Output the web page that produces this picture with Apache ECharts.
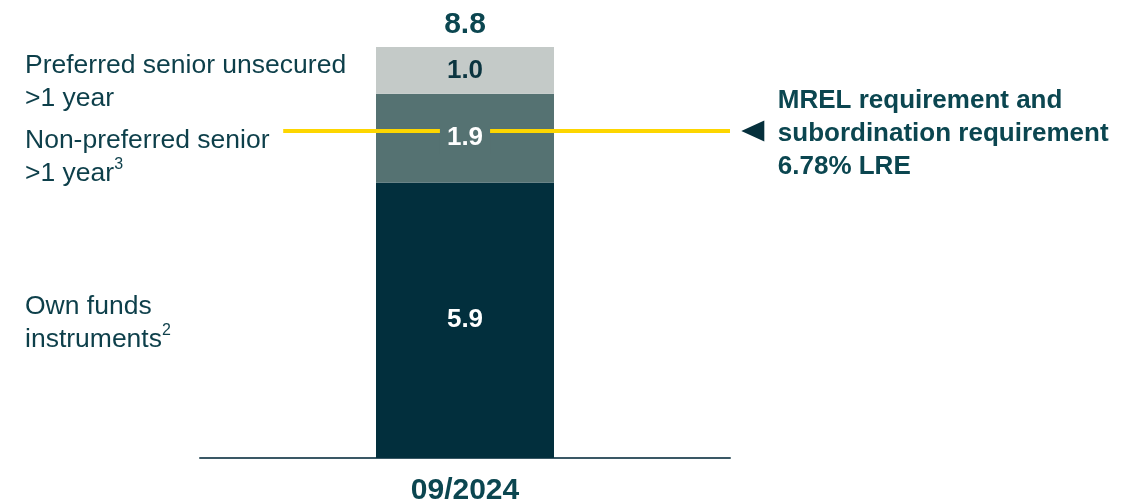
<!DOCTYPE html>
<html>
<head>
<meta charset="utf-8">
<script src="https://cdn.jsdelivr.net/npm/echarts@6/dist/echarts.min.js"></script>
<style>
  html, body { margin: 0; padding: 0; background: #ffffff; }
  #chart { width: 1146px; height: 502px; }
</style>
</head>
<body>
<div id="chart"></div>
<script>
// Stacked funding structure at one reporting date (EUR bn)
const categories = ['09/2024'];
const ownFunds = [5.9];          // Own funds instruments
const nonPreferred = [1.9];      // Non-preferred senior >1 year
const preferred = [1.0];         // Preferred senior unsecured >1 year
const mrelLevel = 7.0;           // MREL / subordination requirement level
const mrelText = ['MREL requirement and', 'subordination requirement', '6.78% LRE'];

const totals = categories.map((_, i) =>
  Math.round((ownFunds[i] + nonPreferred[i] + preferred[i]) * 10) / 10);

const C_DARK = '#022f3d';
const C_MID = '#557272';
const C_LIGHT = '#c4cac8';
const C_YELLOW = '#fdd600';
const C_TEXT = '#0d3f4a';
const C_BOLD = '#0b4650';
const FONT = '"Liberation Sans", Arial, sans-serif';

const chart = echarts.init(document.getElementById('chart'), null, { renderer: 'canvas' });

const segLabel = (color) => ({
  show: true,
  position: 'inside',
  fontFamily: FONT,
  fontWeight: 'bold',
  fontSize: 26,
  color: color,
  formatter: (p) => p.value.toFixed(1)
});

const sideText = (left, top, rich) => ({
  type: 'text',
  left: left,
  top: top,
  z: 100,
  style: {
    text: rich,
    font: '26.5px ' + FONT,
    fill: C_TEXT,
    lineHeight: 33,
    rich: {
      sup: { fontSize: 16, fill: C_TEXT, verticalAlign: 'top', padding: [0, 0, 12, 0] }
    }
  }
});

const solid = { opacity: 1 };

chart.setOption({
  animation: false,
  grid: { left: 200, right: 416, top: 47, bottom: 44, outerBoundsMode: 'none', containLabel: false },
  xAxis: [
    {
      type: 'category',
      data: categories,
      axisLine: { lineStyle: { color: '#3a5865', width: 2 } },
      axisTick: { show: false },
      axisLabel: {
        margin: 18,
        fontFamily: FONT,
        fontWeight: 'bold',
        fontSize: 30,
        color: C_BOLD
      }
    },
    { type: 'value', min: 0, max: 1, show: false }
  ],
  yAxis: { type: 'value', min: 0, max: 8.8, show: false },
  graphic: [
    sideText(25, 49, 'Preferred senior unsecured\n>1 year'),
    sideText(25, 124, 'Non-preferred senior\n>1 year{sup|3}'),
    sideText(25, 290, 'Own funds\ninstruments{sup|2}')
  ],
  series: [
    {
      type: 'bar', stack: 'total', barWidth: 178, z: 1,
      data: ownFunds,
      itemStyle: { color: C_DARK },
      label: segLabel('#ffffff')
    },
    {
      type: 'bar', stack: 'total', barWidth: 178, z: 1,
      data: nonPreferred,
      itemStyle: { color: C_MID }
    },
    {
      type: 'bar', stack: 'total', barWidth: 178, z: 1,
      data: preferred,
      itemStyle: { color: C_LIGHT },
      label: segLabel('#0b3540')
    },
    // requirement line
    {
      type: 'line', xAxisIndex: 1, z: 3,
      data: [[0.157, mrelLevel], [1, mrelLevel]],
      symbol: 'none',
      lineStyle: { color: C_YELLOW, width: 4 }
    },
    // middle segment value, drawn over the requirement line
    {
      type: 'scatter', z: 5, symbolSize: 0,
      itemStyle: solid,
      data: categories.map((c, i) => [c, ownFunds[i] + nonPreferred[i] / 2]),
      label: {
        show: true, position: 'inside',
        fontFamily: FONT, fontWeight: 'bold', fontSize: 26, color: '#ffffff',
        backgroundColor: C_MID, padding: [3, 7],
        formatter: (p) => nonPreferred[p.dataIndex].toFixed(1)
      }
    },
    // total above the stack
    {
      type: 'scatter', z: 5, symbolSize: 0,
      itemStyle: solid,
      data: categories.map((c, i) => [c, totals[i]]),
      label: {
        show: true, position: 'top', distance: 7,
        fontFamily: FONT, fontWeight: 'bold', fontSize: 30, color: C_BOLD,
        formatter: (p) => p.value[1].toFixed(1)
      }
    },
    // pointer and requirement caption
    {
      type: 'scatter', xAxisIndex: 1, z: 5, clip: false,
      symbol: 'triangle', symbolRotate: 90, symbolSize: [21, 23],
      itemStyle: { color: '#06303c', opacity: 1 },
      data: [[1.043, mrelLevel]]
    },
    {
      type: 'scatter', xAxisIndex: 1, z: 5, clip: false, symbolSize: 0,
      itemStyle: solid,
      data: [[1.043, mrelLevel]],
      label: {
        show: true, position: 'right', distance: 25, offset: [0, 3],
        fontFamily: FONT, fontWeight: 'bold', fontSize: 26, color: C_BOLD,
        lineHeight: 33,
        formatter: () => mrelText.join('\n')
      }
    }
  ]
});
</script>
</body>
</html>
